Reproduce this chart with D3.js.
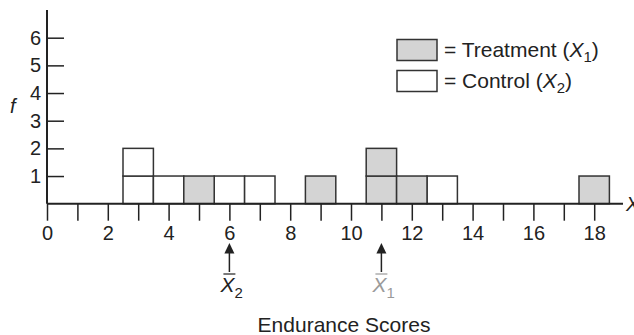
<!DOCTYPE html>
<html>
<head>
<meta charset="utf-8">
<script src="https://cdn.jsdelivr.net/npm/d3@7"></script>
<style>
  html, body { margin: 0; padding: 0; background: #fff; }
  svg { display: block; }
  text { font-family: "Liberation Sans", Arial, Helvetica, sans-serif; fill: #222; }
</style>
</head>
<body>
<svg id="chart" width="634" height="335"></svg>
<script>
// ---- data ----
const scores = d3.range(0, 19);                 // x categories (Endurance Scores)
const treatmentScores = [5, 9, 11, 12, 18];
const treatmentCounts = [1, 1, 2, 1, 1];
const controlScores = [3, 4, 6, 7, 13];
const controlCounts = [2, 1, 1, 1, 1];
const yTicks = [1, 2, 3, 4, 5, 6];
const xLabelTicks = [0, 2, 4, 6, 8, 10, 12, 14, 16, 18];
const treatmentMean = 11;
const controlMean = 6;

const svg = d3.select("#chart");
const x = d3.scaleLinear().domain([0, 18]).range([47, 594.2]);
const y = d3.scaleLinear().domain([0, 6]).range([203.7, 37.7]);
const ink = "#222";
const grayFill = "#d4d4d4";

// ---- bars (unit squares stacked) ----
function units(sc, cnt, group) {
  const out = [];
  sc.forEach((s, i) => { for (let k = 0; k < cnt[i]; k++) out.push({ s, k, group }); });
  return out;
}
const cells = units(controlScores, controlCounts, "c").concat(units(treatmentScores, treatmentCounts, "t"));
svg.append("g").selectAll("rect").data(cells).join("rect")
  .attr("x", d => x(d.s - 0.5))
  .attr("width", d => x(d.s + 0.5) - x(d.s - 0.5))
  .attr("y", d => y(d.k + 1))
  .attr("height", d => y(d.k) - y(d.k + 1))
  .attr("fill", d => d.group === "t" ? grayFill : "#fff")
  .attr("stroke", "#333")
  .attr("stroke-width", 1.5);

// ---- x axis ----
const xAxis = d3.axisBottom(x).tickValues(scores).tickSize(17).tickPadding(5)
  .tickFormat(d => xLabelTicks.includes(d) ? d : "");
const gx = svg.append("g").attr("transform", `translate(0,${y(0)})`).call(xAxis);
gx.select(".domain").remove();
gx.selectAll(".tick line").attr("stroke", ink).attr("stroke-width", 1.5);
gx.selectAll(".tick text").attr("font-size", 20).attr("fill", ink)
  .style("font-family", '"Liberation Sans", Arial, sans-serif');
svg.append("line").attr("x1", x(0)).attr("x2", 623).attr("y1", y(0)).attr("y2", y(0))
  .attr("stroke", ink).attr("stroke-width", 2);
svg.append("text").attr("x", 626).attr("y", y(0) + 7).attr("font-size", 20)
  .attr("font-style", "italic").text("X");

// ---- y axis ----
const yAxis = d3.axisLeft(y).tickValues(yTicks).tickSize(-17).tickPadding(6).tickFormat(d3.format("d"));
const gy = svg.append("g").attr("transform", `translate(${x(0)},0)`).call(yAxis);
gy.select(".domain").remove();
gy.selectAll(".tick line").attr("stroke", ink).attr("stroke-width", 1.5);
gy.selectAll(".tick text").attr("font-size", 20).attr("fill", ink)
  .style("font-family", '"Liberation Sans", Arial, sans-serif');
svg.append("line").attr("x1", x(0)).attr("x2", x(0)).attr("y1", 10).attr("y2", y(0))
  .attr("stroke", ink).attr("stroke-width", 2);
svg.append("text").attr("x", 10).attr("y", 113).attr("font-size", 20)
  .attr("font-style", "italic").text("f");

// ---- legend ----
const legend = [
  { fill: grayFill, label: "= Treatment (", sub: "1" },
  { fill: "#fff", label: "= Control (", sub: "2" }
];
legend.forEach((l, i) => {
  const yy = 39.5 + i * 31;
  svg.append("rect").attr("x", 397).attr("y", yy).attr("width", 40).attr("height", 21)
    .attr("fill", l.fill).attr("stroke", "#333").attr("stroke-width", 1.5);
  const t = svg.append("text").attr("x", 444).attr("y", yy + 17.5).attr("font-size", 21);
  t.append("tspan").text(l.label);
  t.append("tspan").attr("font-style", "italic").text("X");
  t.append("tspan").attr("font-size", 15).attr("dy", 5).text(l.sub);
  t.append("tspan").attr("dy", -5).text(")");
});

// ---- mean markers ----
const means = [
  { v: controlMean, sub: "2", color: ink },
  { v: treatmentMean, sub: "1", color: "#9a9a9a" }
];
means.forEach(m => {
  const cx = x(m.v);
  svg.append("line").attr("x1", cx).attr("x2", cx).attr("y1", 250).attr("y2", 272)
    .attr("stroke", ink).attr("stroke-width", 1.5);
  svg.append("path").attr("d", `M${cx},243 L${cx - 5},253.5 L${cx + 5},253.5 Z`).attr("fill", ink);
  const t = svg.append("text").attr("x", cx - 9).attr("y", 291.5).attr("font-size", 21)
    .style("fill", m.color);
  t.append("tspan").attr("font-style", "italic").text("X");
  t.append("tspan").attr("font-size", 15).attr("dy", 6).text(m.sub);
  svg.append("line").attr("x1", cx - 6).attr("x2", cx + 6).attr("y1", 274).attr("y2", 274)
    .attr("stroke", m.color).attr("stroke-width", 1.2);
});

// ---- axis title ----
svg.append("text").attr("x", 344).attr("y", 331.5).attr("text-anchor", "middle")
  .attr("font-size", 21).text("Endurance Scores");
</script>
</body>
</html>
